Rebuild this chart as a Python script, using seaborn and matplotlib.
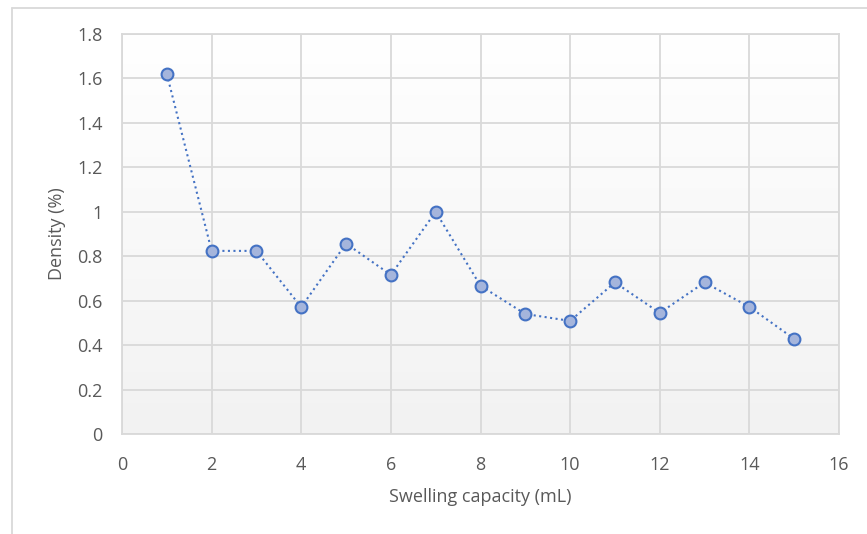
import numpy as np
import pandas as pd
import matplotlib
matplotlib.use("Agg")
import matplotlib.pyplot as plt
import seaborn as sns
from matplotlib.lines import Line2D
from matplotlib.ticker import FuncFormatter

swelling = [1, 2, 3, 4, 5, 6, 7, 8, 9, 10, 11, 12, 13, 14, 15]
density = [1.62, 0.824, 0.824, 0.571, 0.857, 0.716, 1.0, 0.667, 0.54, 0.509, 0.682, 0.545, 0.682, 0.572, 0.428]
x_ticks = [0, 2, 4, 6, 8, 10, 12, 14, 16]
y_ticks = [0, 0.2, 0.4, 0.6, 0.8, 1.0, 1.2, 1.4, 1.6, 1.8]

sns.set_theme(style="white")
plt.rcParams['font.family'] = ['Open Sans', 'DejaVu Sans']

df = pd.DataFrame({"x": swelling, "y": density})

fig = plt.figure(figsize=(8.67, 5.34), dpi=100)
fig.patch.set_facecolor("white")
ax = fig.add_axes([122/867, 1-434/534, (839-122)/867, (434-34)/534])

# gradient background
grad = np.linspace(1.0, 0.0, 256).reshape(-1, 1)
ax.imshow(grad, extent=[0, 1, 0, 1], transform=ax.transAxes, aspect="auto",
          cmap=matplotlib.colors.LinearSegmentedColormap.from_list("g", ["#f2f2f2", "#ffffff"]),
          vmin=0, vmax=1, zorder=0)

sns.lineplot(data=df, x="x", y="y", ax=ax, color="#4472c4", linestyle=":", linewidth=1.5,
             marker="o", markersize=8.5, markerfacecolor="#a5b5dc", markeredgecolor="#4472c4",
             markeredgewidth=1.5, zorder=3)

ax.set_xlim(0, 16)
ax.set_ylim(0, 1.8)
ax.set_xticks(x_ticks)
ax.set_yticks(y_ticks)
ax.yaxis.set_major_formatter(FuncFormatter(lambda v, p: f"{v:g}"))
ax.grid(True, color="#d9d9d9", linewidth=1.3, zorder=1)
ax.set_axisbelow(True)
for s in ax.spines.values():
    s.set_color("#d9d9d9")
    s.set_linewidth(1.3)
ax.tick_params(axis="both", length=0, labelsize=13, labelcolor="#595959")
ax.tick_params(axis="y", pad=14)
ax.tick_params(axis="x", pad=15.5)
ax.set_xlabel("Swelling capacity (mL)", fontsize=13, color="#595959", va="center")
ax.set_ylabel("Density (%)", fontsize=13, color="#595959", va="center")
ax.xaxis.set_label_coords(0.5, (434-497)/400)
ax.yaxis.set_label_coords((57-122)/717, 0.5)

# outer chart border (left & top)
fig.add_artist(Line2D([12/867, 12/867], [0, 1-8/534], transform=fig.transFigure, color="#d9d9d9", lw=1.3))
fig.add_artist(Line2D([12/867, 1], [1-8/534, 1-8/534], transform=fig.transFigure, color="#d9d9d9", lw=1.3))

fig.savefig("out.png", dpi=100)
